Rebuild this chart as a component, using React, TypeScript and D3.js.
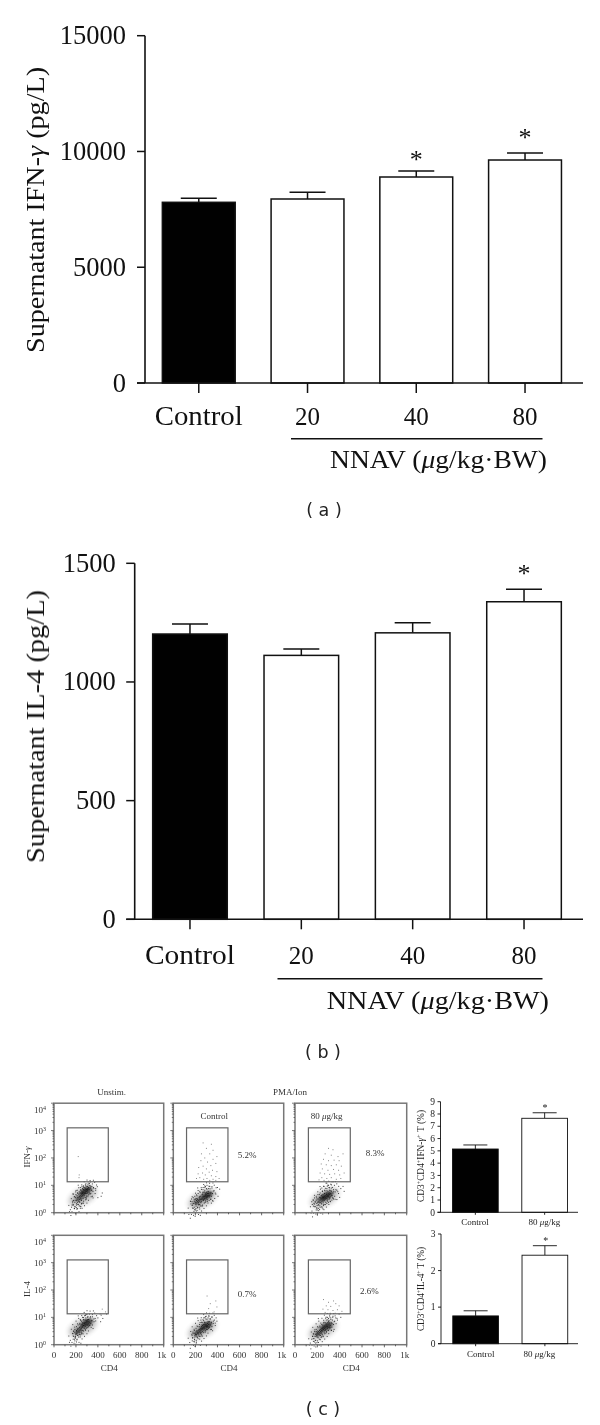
import React from "react";
import * as d3 from "d3";

const categories = ["Control", "20", "40", "80"];
const ifnValues = [7804, 7947, 8897, 9631];
const ifnErrTops = [7977, 8236, 9156, 9933];
const ifnStars = [null, null, 9718, 10680];
const il4Values = [1202, 1112, 1207, 1338];
const il4ErrTops = [1244, 1139, 1250, 1391];
const il4Stars = [null, null, null, 1464];
const ifnTicks = [0, 5000, 10000, 15000];
const il4Ticks = [0, 500, 1000, 1500];

const smallCats = ["Control", "80 μg/kg"];
const pctIfn = [5.15, 7.65];
const pctIfnErr = [5.48, 8.1];
const pctIl4 = [0.76, 2.42];
const pctIl4Err = [0.9, 2.68];
const pctIfnTicks = [0, 1, 2, 3, 4, 5, 6, 7, 8, 9];
const pctIl4Ticks = [0, 1, 2, 3];

const cd4Ticks = [0, 100, 200, 300, 400, 500, 600, 700, 800, 900, 1000];
const cd4Labels = [0, 200, 400, 600, 800, 1000];

// flow events: [CD4, 100*log10(signal)]
const cloudA1 = [[300,85],[310,88],[290,82],[280,80],[270,75],[295,78],[305,80],[315,92],[285,72],[260,70],[250,68],[275,68],[265,62],[240,62],[230,60],[255,58],[245,52],[220,55],[235,48],[210,50],[225,42],[200,45],[215,38],[320,84],[330,90],[300,95],[285,90],[270,85],[255,78],[240,72],[225,68],[210,62],[195,55],[290,70],[305,72],[320,75],[280,62],[265,52],[250,45],[235,38],[220,30],[205,28],[190,38],[180,45],[340,82],[345,96],[325,100],[310,102],[290,98],[275,92],[260,88],[245,82],[230,76],[215,72],[200,66],[185,58],[170,42],[175,30],[190,22],[205,18],[230,25],[250,32],[270,42],[295,58],[315,65],[335,70],[355,78],[360,92],[300,62],[285,55],[265,35],[245,22],[165,28],[160,20],[215,15],[240,16],[185,15],[380,88],[375,70],[395,95],[440,72],[430,60],[400,55],[350,60],[295,50],[312,108],[330,112],[268,98],[255,95],[212,82],[198,76],[178,68],[240,92],[302,88],[296,84],[288,76],[278,72],[268,68],[258,64],[248,60],[238,55],[228,50],[218,46],[308,84],[284,86],[272,80],[262,74],[252,72]];
const cloudA2 = [[300,65],[310,70],[290,62],[280,60],[320,62],[305,55],[295,72],[315,78],[285,52],[270,58],[260,50],[250,48],[240,42],[230,45],[220,40],[210,44],[200,38],[190,42],[215,52],[205,30],[225,32],[235,55],[245,60],[255,40],[265,68],[275,75],[285,82],[300,88],[320,88],[335,72],[345,60],[355,70],[340,50],[325,45],[310,42],[295,40],[280,35],[265,28],[250,25],[235,20],[220,18],[205,15],[190,20],[175,28],[170,40],[165,50],[180,55],[195,60],[210,65],[225,70],[240,78],[255,85],[270,92],[285,98],[305,100],[330,96],[350,90],[370,80],[385,68],[375,52],[360,42],[345,35],[200,10],[215,8],[240,30],[180,16],[160,32],[155,42],[400,92],[420,86],[405,60],[300,58],[308,62],[292,68],[312,60],[298,50],[288,58],[278,48],[302,75],[318,70],[330,62],[272,45],[228,38],[212,36],[198,48],[218,48],[240,50],[186,34],[205,52],[232,28]];
const cloudA3 = [[290,62],[300,60],[280,58],[310,66],[270,55],[320,70],[295,68],[285,52],[305,55],[260,50],[250,46],[240,42],[230,38],[220,36],[275,62],[265,60],[255,56],[245,54],[235,50],[225,46],[215,42],[205,38],[195,34],[315,58],[330,62],[340,72],[325,78],[310,82],[295,76],[280,72],[265,70],[250,66],[235,62],[220,56],[205,50],[190,46],[180,40],[170,34],[165,46],[175,54],[190,60],[205,66],[225,72],[245,78],[265,82],[285,88],[305,92],[325,90],[345,84],[360,76],[375,82],[390,70],[355,60],[345,50],[330,46],[315,42],[300,38],[285,34],[270,30],[255,26],[240,22],[225,20],[210,16],[195,18],[180,22],[165,24],[155,30],[150,40],[200,10],[220,12],[250,14],[300,100],[320,104],[285,108],[260,96],[240,90],[410,88],[430,96],[440,78],[400,56],[375,48],[290,58],[298,64],[282,66],[272,50],[262,44],[304,70],[288,46],[276,38],[252,36],[238,32],[212,28],[198,26],[310,50],[336,54],[250,58],[228,54]];
const cloudB1 = [[300,80],[310,85],[290,76],[280,72],[320,82],[295,88],[305,72],[315,92],[285,66],[270,70],[260,64],[250,58],[240,54],[230,50],[220,46],[210,42],[200,40],[190,44],[275,82],[265,78],[255,74],[245,68],[235,64],[225,60],[215,56],[205,52],[195,30],[325,70],[335,78],[345,88],[330,98],[310,102],[290,98],[270,92],[250,86],[235,78],[220,72],[205,66],[190,56],[180,50],[172,40],[180,30],[195,24],[210,20],[225,28],[240,36],[255,42],[270,50],[285,56],[300,62],[315,68],[350,72],[365,84],[375,96],[350,102],[300,110],[280,106],[260,100],[240,92],[175,20],[190,14],[205,10],[215,34],[232,38],[248,46],[400,98],[430,108],[425,84],[480,112],[445,96],[298,84],[306,90],[288,82],[278,78],[268,70],[258,68],[248,62],[238,58],[228,54],[218,50],[292,72],[312,76],[302,92],[284,90],[208,46],[198,36],[276,60],[262,52]];
const cloudB2 = [[300,72],[310,78],[290,68],[280,64],[320,74],[295,80],[305,64],[315,84],[285,58],[270,62],[260,56],[250,50],[240,46],[230,42],[220,40],[210,36],[200,38],[190,42],[275,74],[265,70],[255,66],[245,60],[235,56],[225,52],[215,48],[205,46],[195,28],[325,64],[335,72],[345,82],[335,94],[315,98],[295,94],[275,88],[255,82],[238,74],[222,66],[206,60],[190,52],[178,46],[168,38],[176,26],[192,20],[208,16],[224,22],[240,30],[256,36],[272,44],[288,50],[302,56],[318,60],[350,66],[362,78],[372,90],[350,100],[322,106],[298,104],[276,98],[250,90],[172,14],[190,10],[208,6],[215,28],[232,32],[248,40],[395,86],[380,70],[345,56],[300,66],[294,72],[286,74],[278,68],[268,60],[258,60],[248,54],[238,50],[228,46],[218,44],[308,70],[312,66],[284,80],[206,38],[196,34],[266,48],[252,44],[328,84]];
const cloudB3 = [[285,68],[295,72],[275,64],[265,60],[305,76],[280,76],[290,60],[300,84],[270,52],[255,56],[245,50],[235,46],[225,42],[215,38],[205,36],[195,34],[185,38],[260,68],[250,64],[240,60],[230,56],[220,52],[210,48],[200,44],[190,48],[180,30],[315,70],[325,80],[335,90],[320,98],[300,96],[280,90],[260,82],[240,74],[222,68],[206,62],[190,56],[176,48],[164,40],[158,30],[170,22],[186,16],[202,14],[218,20],[234,26],[250,32],[266,40],[282,46],[298,52],[312,58],[330,64],[345,74],[355,86],[365,98],[340,104],[310,108],[290,100],[395,112],[410,100],[380,90],[150,20],[165,12],[185,6],[210,8],[228,34],[244,38],[350,56],[325,52],[288,66],[298,64],[278,72],[268,68],[258,62],[248,58],[238,52],[228,48],[218,44],[208,42],[198,40],[292,80],[276,56],[262,46],[310,64],[304,88],[204,28]];

// scatter around each cloud's centre: [dCD4, d(100*log10)]
const halo = [[-127,-13],[-113,-31],[-104,8],[-98,-41],[-91,23],[-87,-19],[-79,-47],[-73,11],[-69,-28],[-61,31],[-58,-7],[-53,-39],[-47,19],[-43,-23],[-37,37],[-34,-51],[-29,3],[-23,-33],[-19,27],[-14,-11],[-9,43],[-6,-43],[-2,16],[3,-26],[7,33],[11,-5],[16,-37],[21,22],[26,-17],[29,41],[34,5],[38,-31],[43,29],[47,-9],[52,-23],[56,17],[61,37],[66,-3],[71,26],[77,-14],[82,9],[88,31],[94,-21],[101,13],[109,33],[118,3],[126,21],[-121,-37],[-83,-3],[-64,-53],[-41,47],[-17,-57],[13,51],[39,53],[67,47],[97,43],[-108,-53],[-49,3],[-26,13],[-11,-24],[18,7],[31,-11],[59,1],[-75,-33],[-31,-15],[4,24],[-56,-17],[44,12],[-92,-9],[24,38]];
const centreA1 = [262, 60];
const centreA2 = [262, 50];
const centreA3 = [265, 55];
const centreB1 = [262, 65];
const centreB2 = [262, 57];
const centreB3 = [250, 55];
const coreA1 = [[290, 80], [235, 55]];
const coreA2 = [[300, 62], [225, 42]];
const coreA3 = [[285, 62], [235, 50]];
const coreB1 = [[295, 78], [225, 50]];
const coreB2 = [[295, 68], [225, 45]];
const coreB3 = [[280, 66], [215, 42]];

const gateA1 = [[221,205],[230,138],[228,128]];
const gateA2 = [[270,255],[345,250],[300,235],[360,228],[255,215],[330,215],[395,205],[285,200],[360,195],[250,190],[310,185],[385,180],[340,172],[270,170],[230,165],[300,160],[355,155],[395,150],[325,148],[265,145],[225,142],[290,138],[345,135],[385,132],[240,128],[305,125],[360,122],[415,125],[275,122],[330,118],[210,125],[385,118]];
const gateA3 = [[300,235],[340,230],[270,215],[325,210],[385,205],[430,215],[255,195],[300,190],[350,192],[395,190],[235,178],[280,175],[325,172],[370,175],[415,170],[245,160],[295,155],[345,158],[390,155],[225,145],[265,142],[310,140],[355,142],[400,138],[440,145],[240,128],[285,125],[325,128],[370,122],[410,125],[260,118],[300,115],[345,113],[215,120]];
const gateB1 = [[420,112],[470,120],[440,130]];
const gateB2 = [[306,178],[385,160],[335,150],[395,138],[320,132],[370,120]];
const gateB3 = [[255,165],[300,155],[345,160],[280,142],[320,140],[365,150],[395,142],[250,130],[295,128],[340,125],[380,128],[420,122],[270,118],[315,115],[360,115]];

const gateRect = [120, 495, 113, 310]; // CD4 from, CD4 to, 100*log from, 100*log to

const SERIF = "'Liberation Serif', 'Times New Roman', serif";
const SANS = "'DejaVu Sans', sans-serif";
const INK = "#111";

function BigBars({ values, errs, stars, ticks, yTop, y0, left, range, tickW, title, titleY, titleLen, labelW, labelB, lineX, lineY, nnavX, nnavB }: any) {
  const x = d3.scaleBand().domain(categories).range(range).paddingInner(0.33).paddingOuter(0.165);
  const y = d3.scaleLinear().domain([0, ticks[ticks.length - 1]]).range([y0, yTop]);
  const bw = x.bandwidth();
  return (
    <g fontFamily={SERIF} fill={INK}>
      {categories.map((c, i) => {
        const bx = x(c)!;
        const cx = bx + bw / 2;
        return (
          <g key={c}>
            <path d={`M${cx},${y(values[i])}V${y(errs[i])}M${cx - 18},${y(errs[i])}H${cx + 18}`} stroke={INK} strokeWidth={1.5} fill="none" />
            <rect x={bx} y={y(values[i])} width={bw} height={y0 - y(values[i])} fill={i === 0 ? "#000" : "#fff"} stroke={INK} strokeWidth={1.5} />
            <line x1={cx} x2={cx} y1={y0} y2={y0 + 10} stroke={INK} strokeWidth={1.5} />
            <text x={cx} y={labelB} textAnchor="middle" fontSize={i === 0 ? 28 : 26} textLength={i === 0 ? labelW : 25} lengthAdjust="spacingAndGlyphs">{c}</text>
            {stars[i] !== null && <text x={cx} y={y(stars[i]) + 10} textAnchor="middle" fontSize={26}>*</text>}
          </g>
        );
      })}
      <line x1={left} x2={left} y1={yTop} y2={y0} stroke={INK} strokeWidth={1.6} />
      <line x1={left - tickW} x2={583} y1={y0} y2={y0} stroke={INK} strokeWidth={1.6} />
      {ticks.map((t: number) => (
        <g key={t}>
          <line x1={left - tickW} x2={left} y1={y(t)} y2={y(t)} stroke={INK} strokeWidth={1.5} />
          <text x={left - 19} y={y(t) + 8.5} textAnchor="end" fontSize={26.5}>{t}</text>
        </g>
      ))}
      <text transform={`translate(44,${titleY}) rotate(-90)`} textAnchor="middle" fontSize={26} textLength={titleLen} lengthAdjust="spacingAndGlyphs">
        {title[0]}<tspan fontStyle="italic">{title[1]}</tspan>{title[2]}
      </text>
      <line x1={lineX[0]} x2={lineX[1]} y1={lineY} y2={lineY} stroke={INK} strokeWidth={1.6} />
      <text x={nnavX[0]} y={nnavB} fontSize={26} textLength={nnavX[1] - nnavX[0]} lengthAdjust="spacingAndGlyphs">
        NNAV (<tspan fontStyle="italic">μ</tspan>g/kg·BW)
      </text>
    </g>
  );
}

function Flow({ x0, x1, yTop, y0, cloud, centre, core, gate, gateBox, showX, showY, yTitle }: any) {
  const x = d3.scaleLinear().domain([0, 1000]).range([x0, x1]);
  const y = d3.scaleLog().domain([1, 10000]).range([y0, yTop]);
  const py = (v: number) => y(Math.pow(10, v / 100));
  const decades = [1, 10, 100, 1000, 10000];
  return (
    <g fontFamily={SERIF} fill="#333">
      <ellipse cx={x(centre[0])} cy={py(centre[1])} rx={15} ry={7.5} transform={`rotate(-28 ${x(centre[0])} ${py(centre[1])})`} fill="#666" opacity={0.45} filter="url(#soft)" />
      {core.map((c: number[], i: number) => (
        <ellipse key={"c" + i} cx={x(c[0])} cy={py(c[1])} rx={i === 0 ? 7 : 5} ry={i === 0 ? 3.6 : 3} transform={`rotate(-30 ${x(c[0])} ${py(c[1])})`} fill="#000" opacity={i === 0 ? 0.62 : 0.38} filter="url(#soft1)" />
      ))}
      {halo.map((p: number[], i: number) => (
        <rect key={"h" + i} x={x(centre[0] + p[0]) - 0.5} y={py(centre[1] + p[1] + p[0] * 0.16) - 0.5} width={1} height={1} fill="#444" />
      ))}
      {cloud.map((p: number[], i: number) => (
        <rect key={i} x={x(p[0]) - 0.5} y={py(p[1]) - 0.5} width={1} height={1} fill="#111" opacity={0.8} />
      ))}
      {gate.map((p: number[], i: number) => (
        <rect key={"g" + i} x={x(p[0]) - 0.5} y={py(p[1]) - 0.5} width={1} height={1} fill="#888" />
      ))}
      <rect x={x0} y={yTop} width={x1 - x0} height={y0 - yTop} fill="none" stroke="#777" strokeWidth={1.5} />
      <rect x={x(gateBox[0])} y={py(gateBox[3])} width={x(gateBox[1]) - x(gateBox[0])} height={py(gateBox[2]) - py(gateBox[3])} fill="none" stroke="#666" strokeWidth={1.2} />
      {y.ticks().map((t, i) => (
        <line key={i} x1={x0 - (decades.includes(t) ? 3 : 1.5)} x2={x0} y1={y(t)} y2={y(t)} stroke="#444" strokeWidth={0.7} />
      ))}
      {cd4Ticks.map((t) => (
        <line key={t} x1={x(t)} x2={x(t)} y1={y0} y2={y0 + (t % 200 === 0 ? 2.6 : 1.6)} stroke="#444" strokeWidth={0.8} />
      ))}
      {showY && decades.map((t, i) => (
        <text key={t} x={40} y={y(t) + (t === 10000 ? 10 : 3)} textAnchor="middle" fontSize={9}>
          10<tspan dy={-3} fontSize={6}>{i}</tspan>
        </text>
      ))}
      {showX && cd4Labels.map((t) => (
        <text key={t} x={x(t) - (t === 1000 ? 2 : 0)} y={y0 + 13.6} textAnchor="middle" fontSize={9}>{t === 1000 ? "1k" : t}</text>
      ))}
      {showX && <text x={(x0 + x1) / 2 + 0.5} y={y0 + 26.5} textAnchor="middle" fontSize={9}>CD4</text>}
      {yTitle}
    </g>
  );
}

function SmallBars({ values, errs, ticks, yTop, y0, left, range, yTitle, labelXs, labelB, starX, starY }: any) {
  const x = d3.scaleBand().domain(smallCats).range(range).paddingInner(0.34).paddingOuter(0.17);
  const y = d3.scaleLinear().domain([0, ticks[ticks.length - 1]]).range([y0, yTop]);
  const bw = x.bandwidth();
  return (
    <g fontFamily={SERIF} fill="#222">
      {smallCats.map((c, i) => {
        const bx = x(c)!;
        const cx = bx + bw / 2;
        return (
          <g key={c}>
            <path d={`M${cx},${y(values[i])}V${y(errs[i])}M${cx - 12},${y(errs[i])}H${cx + 12}`} stroke={INK} strokeWidth={0.9} fill="none" />
            <rect x={bx} y={y(values[i])} width={bw} height={y0 - y(values[i])} fill={i === 0 ? "#000" : "#fff"} stroke={INK} strokeWidth={0.9} />
            <line x1={cx} x2={cx} y1={y0} y2={y0 + 2.5} stroke={INK} strokeWidth={0.9} />
            <text x={labelXs[i]} y={labelB} textAnchor="middle" fontSize={9}>
              {c.split("μ")[0]}{c.includes("μ") && <tspan fontStyle="italic">μ</tspan>}{c.split("μ")[1]}
            </text>
          </g>
        );
      })}
      <line x1={left} x2={left} y1={yTop} y2={y0} stroke={INK} strokeWidth={0.9} />
      <line x1={left - 3} x2={578} y1={y0} y2={y0} stroke={INK} strokeWidth={0.9} />
      {ticks.map((t: number) => (
        <g key={t}>
          <line x1={left - 3} x2={left} y1={y(t)} y2={y(t)} stroke={INK} strokeWidth={0.9} />
          <text x={left - 5.5} y={y(t) + 3.2} textAnchor="end" fontSize={9.5}>{t}</text>
        </g>
      ))}
      <text x={starX} y={starY + 4.5} textAnchor="middle" fontSize={10}>*</text>
      {yTitle}
    </g>
  );
}

function Sup({ children }: any) {
  return <tspan dy={-3} fontSize={6}>{children}</tspan>;
}
function Unsup({ children }: any) {
  return <tspan dy={3}>{children}</tspan>;
}

export default function App() {
  const lbl = (x: number, y: number, s: any) => (
    <text x={x} y={y} textAnchor="middle" fontFamily={SERIF} fontSize={9} fill="#333">{s}</text>
  );
  const caption = (s: string, x: number, y: number) => (
    <text x={x} y={y} textAnchor="middle" fontFamily={SANS} fontSize={17.5} fill="#222" xmlSpace="preserve">{`( ${s} )`}</text>
  );
  return (
    <svg width={600} height={1425} viewBox="0 0 600 1425" style={{ position: "absolute", left: 0, top: 0, background: "#fff" }}>
      <defs>
        <filter id="soft" x="-50%" y="-50%" width="200%" height="200%"><feGaussianBlur stdDeviation={2.4} /></filter>
        <filter id="soft1" x="-50%" y="-50%" width="200%" height="200%"><feGaussianBlur stdDeviation={1.2} /></filter>
      </defs>
      <g opacity={0.999}>
      <BigBars values={ifnValues} errs={ifnErrTops} stars={ifnStars} ticks={ifnTicks} yTop={35.7} y0={383} left={145}
        range={[144.4, 579.4]} tickW={8} title={["Supernatant IFN-", "γ", " (pg/L)"]} titleY={210} titleLen={286} labelW={88} labelB={425}
        lineX={[291, 542.5]} lineY={438.7} nnavX={[330, 547]} nnavB={467.7} />
      {caption("a", 324, 516)}

      <BigBars values={il4Values} errs={il4ErrTops} stars={il4Stars} ticks={il4Ticks} yTop={563.3} y0={919.3} left={134.7}
        range={[134.3, 579.7]} tickW={8.5} title={["Supernatant IL-4 (pg/L)", "", ""]} titleY={726.5} titleLen={273} labelW={90} labelB={964.3}
        lineX={[277.5, 542.5]} lineY={978.7} nnavX={[326.7, 549]} nnavB={1009} />
      {caption("b", 323, 1058)}

      {lbl(111.7, 1095, "Unstim.")}
      {lbl(290, 1095, "PMA/Ion")}
      {lbl(214.3, 1119, "Control")}
      <text x={326.7} y={1119} textAnchor="middle" fontFamily={SERIF} fontSize={9} fill="#333">80 <tspan fontStyle="italic">μ</tspan>g/kg</text>
      {lbl(247, 1158, "5.2%")}
      {lbl(375, 1156, "8.3%")}
      {lbl(247, 1297.3, "0.7%")}
      {lbl(369.3, 1294, "2.6%")}

      <Flow x0={54} x1={163.7} yTop={1103.2} y0={1212.7} cloud={cloudA1} centre={centreA1} core={coreA1} gate={gateA1} gateBox={gateRect} showY
        yTitle={<text transform="translate(30,1157) rotate(-90)" textAnchor="middle" fontSize={9}>IFN-<tspan fontStyle="italic">γ</tspan></text>} />
      <Flow x0={173.3} x1={283.7} yTop={1103.2} y0={1212.7} cloud={cloudA2} centre={centreA2} core={coreA2} gate={gateA2} gateBox={gateRect} />
      <Flow x0={295} x1={406.7} yTop={1103.2} y0={1212.7} cloud={cloudA3} centre={centreA3} core={coreA3} gate={gateA3} gateBox={gateRect} />
      <Flow x0={54} x1={163.7} yTop={1235.3} y0={1344.7} cloud={cloudB1} centre={centreB1} core={coreB1} gate={gateB1} gateBox={gateRect} showX showY
        yTitle={<text transform="translate(30,1289) rotate(-90)" textAnchor="middle" fontSize={9}>IL-4</text>} />
      <Flow x0={173.3} x1={283.7} yTop={1235.3} y0={1344.7} cloud={cloudB2} centre={centreB2} core={coreB2} gate={gateB2} gateBox={gateRect} showX />
      <Flow x0={295} x1={406.7} yTop={1235.3} y0={1344.7} cloud={cloudB3} centre={centreB3} core={coreB3} gate={gateB3} gateBox={gateRect} showX />

      <SmallBars values={pctIfn} errs={pctIfnErr} ticks={pctIfnTicks} yTop={1101.7} y0={1212.3} left={440.5}
        range={[440.7, 579.3]} labelXs={[475, 544.3]} labelB={1225} starX={545} starY={1106}
        yTitle={<text transform="translate(423.5,1156) rotate(-90)" textAnchor="middle" fontSize={9.3} textLength={92}>CD3<Sup>+</Sup><Unsup>CD4</Unsup><Sup>+</Sup><Unsup>IFN-</Unsup><tspan fontStyle="italic">γ</tspan><Sup>+</Sup><Unsup> T (%)</Unsup></text>} />
      <SmallBars values={pctIl4} errs={pctIl4Err} ticks={pctIl4Ticks} yTop={1234} y0={1343.7} left={441}
        range={[441, 579.5]} labelXs={[480.7, 539.3]} labelB={1356.7} starX={545.7} starY={1239}
        yTitle={<text transform="translate(423.5,1289) rotate(-90)" textAnchor="middle" fontSize={9.3} textLength={84}>CD3<Sup>+</Sup><Unsup>CD4</Unsup><Sup>+</Sup><Unsup>IL-4</Unsup><Sup>+</Sup><Unsup> T (%)</Unsup></text>} />
      {caption("c", 323, 1415)}
      </g>
    </svg>
  );
}
